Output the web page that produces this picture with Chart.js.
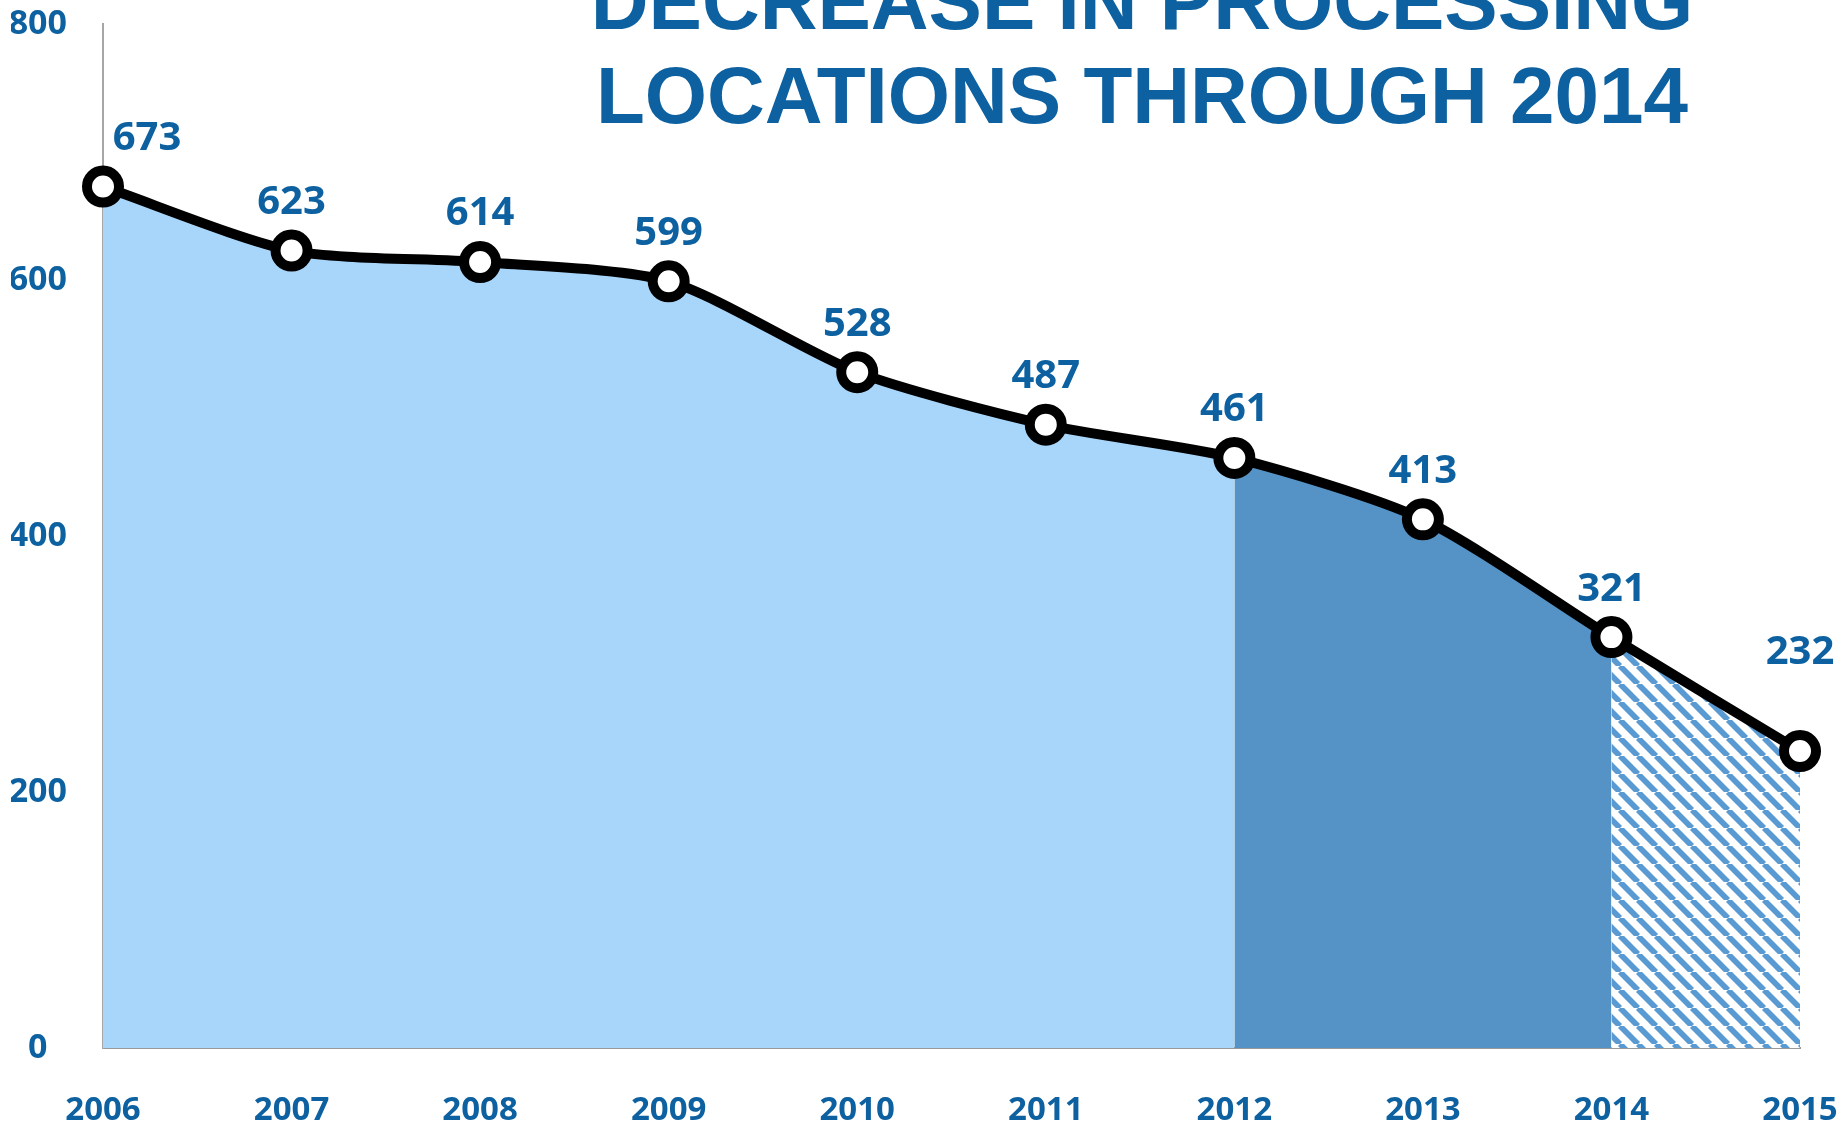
<!DOCTYPE html>
<html>
<head>
<meta charset="utf-8">
<script src="https://cdn.jsdelivr.net/npm/chart.js@4.4.1/dist/chart.umd.min.js"></script>
<style>
  html, body { margin: 0; padding: 0; background: #fff; }
  #wrap { width: 1843px; height: 1125px; }
</style>
</head>
<body>
<div id="wrap"><canvas id="chart" width="1843" height="1125"></canvas></div>
<script>
// data
const years = ["2006", "2007", "2008", "2009", "2010", "2011", "2012", "2013", "2014", "2015"];
const locations = [673, 623, 614, 599, 528, 487, 461, 413, 321, 232];
const yTicks = [0, 200, 400, 600, 800];
const titleLines = ["DECREASE IN PROCESSING", "LOCATIONS THROUGH 2014"];

const TEXT_BLUE = "#0d61a0";
const LIGHT = "#a8d6fa";
const DARK = "#5593c6";

// diagonal stripes for the projected part
function makeHatch() {
  const s = 18;
  const c = document.createElement("canvas");
  c.width = s;
  c.height = s;
  const g = c.getContext("2d");
  g.fillStyle = "#fff";
  g.fillRect(0, 0, s, s);
  g.strokeStyle = "#5a9ad2";
  g.lineWidth = 5.8;
  for (let k = -1; k <= 1; k++) {
    g.beginPath();
    g.moveTo(k * s, 0);
    g.lineTo(k * s + s, s);
    g.stroke();
  }
  return g.createPattern(c, "repeat");
}
const hatch = makeHatch();

const valueLabels = {
  id: "valueLabels",
  afterDatasetsDraw(chart) {
    const ctx = chart.ctx;
    const pts = chart.getDatasetMeta(0).data;
    ctx.save();
    ctx.font = 'bold 40px "Open Sans", sans-serif';
    ctx.fillStyle = TEXT_BLUE;
    ctx.textAlign = "center";
    ctx.textBaseline = "middle";
    pts.forEach((p, i) => {
      let dx = 0, dy = -48;
      if (i === 0) dx = 44;
      if (i === pts.length - 1) dy = -98;
      ctx.fillText(String(locations[i]), p.x + dx, p.y + dy);
    });
    ctx.restore();
  }
};

const bigTitle = {
  id: "bigTitle",
  afterDraw(chart) {
    const ctx = chart.ctx;
    ctx.save();
    ctx.font = 'bold 80px "Liberation Sans", Arial, sans-serif';
    ctx.fillStyle = TEXT_BLUE;
    ctx.textAlign = "center";
    ctx.textBaseline = "alphabetic";
    titleLines.forEach((line, i) => ctx.fillText(line, 1142, 29 + i * 94));
    ctx.restore();
  }
};

new Chart(document.getElementById("chart"), {
  type: "line",
  data: {
    labels: years,
    datasets: [
      {
        data: locations,
        borderColor: "#000",
        borderWidth: 10,
        tension: 0.25,
        fill: "origin",
        backgroundColor: LIGHT,
        segment: {
          backgroundColor: (c) => (c.p0DataIndex >= 8 ? hatch : c.p0DataIndex >= 6 ? DARK : LIGHT),
        },
        pointRadius: 16,
        pointBorderWidth: 10,
        pointBackgroundColor: "#fff",
        pointBorderColor: "#000",
        clip: false,
      },
    ],
  },
  options: {
    responsive: false,
    animation: false,
    events: [],
    layout: { autoPadding: false, padding: { left: 11, right: 43, top: 24, bottom: 0 } },
    plugins: {
      legend: { display: false },
      tooltip: { enabled: false },
    },
    scales: {
      x: {
        offset: false,
        grid: { display: false, drawTicks: false },
        border: { color: "#999", width: 2 },
        ticks: {
          color: TEXT_BLUE,
          font: { family: '"Open Sans", sans-serif', size: 33, weight: "bold", lineHeight: 1 },
          padding: 46,
          maxRotation: 0,
          autoSkip: false,
        },
        afterFit: (scale) => {
          scale.height = 77;
          scale.paddingLeft = 0;
          scale.paddingRight = 0;
        },
      },
      y: {
        min: 0,
        max: 800,
        afterBuildTicks: (scale) => {
          scale.ticks = yTicks.map((v) => ({ value: v }));
        },
        grid: { display: false, drawTicks: false },
        border: { color: "#a6a6a6", width: 2 },
        ticks: {
          color: TEXT_BLUE,
          crossAlign: "center",
          padding: 36,
          font: { family: '"Open Sans", sans-serif', size: 34, weight: "bold" },
        },
        afterFit: (scale) => {
          scale.width = 92;
          scale.paddingTop = 0;
          scale.paddingBottom = 0;
        },
      },
    },
  },
  plugins: [valueLabels, bigTitle],
});
</script>
</body>
</html>
